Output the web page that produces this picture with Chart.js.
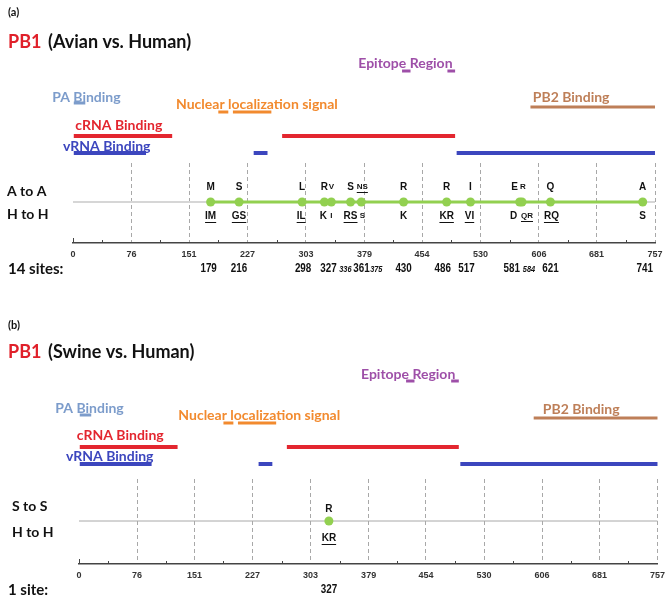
<!DOCTYPE html>
<html><head><meta charset="utf-8">
<script src="https://cdn.jsdelivr.net/npm/chart.js@4/dist/chart.umd.min.js"></script>
<style>html,body{margin:0;padding:0;background:#fff;}canvas{display:block;}</style>
</head><body>
<canvas id="ca" width="671" height="300"></canvas>
<canvas id="cb" width="671" height="300"></canvas>
<script>
// ---------- DATA ----------
const tickValues = [0, 76, 151, 227, 303, 379, 454, 530, 606, 681, 757];
const proteinLength = 757;

// functional domains (residue ranges)
const paBinding = [[1, 16]];
const nuclearLocalization = [[189, 202], [208, 258]];
const cRNABinding = [[1, 129], [272, 497]];
const vRNABinding = [[1, 95], [235, 253], [499, 757]];
const epitopeRegion = [[428, 439], [487, 497]];
const pb2Binding = [[595, 757]];

// panel (a): Avian vs. Human
const sitesA = [179, 216, 298, 327, 336, 361, 375, 430, 486, 517, 581, 584, 621, 741];
const avianResidues = ['M', 'S', 'L', 'R', 'V', 'S', 'NS', 'R', 'R', 'I', 'E', 'R', 'Q', 'A'];
const humanResiduesA = ['IM', 'GS', 'IL', 'K', 'I', 'RS', 'S', 'K', 'KR', 'VI', 'D', 'QR', 'RQ', 'S'];
const minorSitesA = [336, 375, 584];

// panel (b): Swine vs. Human
const sitesB = [327];
const swineResidues = ['R'];
const humanResiduesB = ['KR'];
const minorSitesB = [];

// ---------- STYLE / LAYOUT ----------
const SANS = "Lato, 'Open Sans', sans-serif";
const ARIAL = "'Liberation Sans', Arial, sans-serif";
const AXIS_H = 20;
const colors = {
  pa: '#7C9CCB', nls: '#F28A2E', crna: '#E3262F', vrna: '#3C46BE',
  epitope: '#9E4FA8', pb2: '#BE7F58', green: '#92D050', title: '#E0202A'
};

const panels = [
  {
    canvas: 'ca', tag: '(a)', title: '(Avian vs. Human)', rowTop: 'A to A', rowBottom: 'H to H', count: '14 sites:',
    sites: sitesA, top: avianResidues, bottom: humanResiduesA, minor: minorSitesA,
    area: { left: 73, right: 655, top: 163, bottom: 243 },
    baseLine: { color: '#d6d6d6', width: 2 }, greenLine: true,
    lv: { epitope: 172, pb2: 136, pa: 140, nls: 131, crna: 107, vrna: 90, site: 41, topRes: 56, botRes: 27 },
    rowY: [52, 29], rowX: 7,
    labels: { epitope: [371, 180], pb2: [598, 146], pa: [-27, 146], nls: [134, 139], crna: [3, 118], vrna: [-13, 97] },
    tagY: 12, titleY: 42,
    numOffsets: [-2, 0, 1, 4, 14, 11, 15, 0, -4, -4, -8, 7, 0, 2],
    topOffsets: [0, 0, 0, 0, 0, 0, 1, 0, 0, 0, -5, 1, 0, 0],
    botOffsets: [0, 0, -1, -1, 0, 0, 1, 0, 0, -1, -6, 5, 1, 0]
  },
  {
    canvas: 'cb', tag: '(b)', title: '(Swine vs. Human)', rowTop: 'S to S', rowBottom: 'H to H', count: '1 site:',
    sites: sitesB, top: swineResidues, bottom: humanResiduesB, minor: minorSitesB,
    area: { left: 79, right: 660, top: 179, bottom: 264 },
    baseLine: { color: '#a8a8a8', width: 1 }, greenLine: false,
    lv: { epitope: 183, pb2: 146, pa: 149, nls: 141, crna: 117, vrna: 100, site: 43, topRes: 55, botRes: 26 },
    rowY: [58, 32], rowX: 12,
    labels: { epitope: [369, 190], pb2: [607, 155], pa: [-31, 156], nls: [130, 149], crna: [-3, 129], vrna: [-17, 108] },
    tagY: 25, titleY: 52,
    numOffsets: [0], topOffsets: [0], botOffsets: [0]
  }
];

function makeChart(p) {
  const H = p.area.bottom - p.area.top;
  const datasets = [];
  // sites drawn on top (first dataset = topmost)
  datasets.push({
    data: p.sites.map(s => ({ x: s, y: p.lv.site })),
    showLine: p.greenLine, borderColor: colors.green, borderWidth: 3,
    pointRadius: 4.5, pointBackgroundColor: colors.green, pointBorderWidth: 0, clip: false
  });
  function seg(ranges, level, color, width) {
    ranges.forEach(r => datasets.push({
      data: [{ x: r[0], y: level }, { x: r[1], y: level }],
      borderColor: color, borderWidth: width, pointRadius: 0, clip: false, borderCapStyle: 'butt'
    }));
  }
  seg([[0, proteinLength]], p.lv.site, p.baseLine.color, p.baseLine.width);
  seg(epitopeRegion, p.lv.epitope, colors.epitope, 3);
  seg(pb2Binding, p.lv.pb2, colors.pb2, 3);
  seg(paBinding, p.lv.pa, colors.pa, 3);
  seg(nuclearLocalization, p.lv.nls, colors.nls, 3);
  seg(cRNABinding, p.lv.crna, colors.crna, 4);
  seg(vRNABinding, p.lv.vrna, colors.vrna, 4);

  const textPlugin = {
    id: 'texts',
    afterDraw(chart) {
      const ctx = chart.ctx, xs = chart.scales.x, ys = chart.scales.y;
      const X = v => xs.getPixelForValue(v), Y = v => ys.getPixelForValue(v);
      ctx.save();
      ctx.textBaseline = 'middle';
      // panel tag and title
      ctx.textAlign = 'left';
      ctx.fillStyle = '#111';
      ctx.font = `bold 11px ${SANS}`;
      ctx.fillText(p.tag, 8, p.tagY);
      ctx.font = `bold 18px ${SANS}`;
      ctx.fillStyle = colors.title;
      ctx.fillText('PB1', 8, p.titleY);
      ctx.fillStyle = '#111';
      ctx.fillText(p.title, 48, p.titleY);
      // domain labels
      const lab = [
        ['Epitope Region', 'epitope'], ['PB2 Binding', 'pb2'], ['PA Binding', 'pa'],
        ['Nuclear localization signal', 'nls'], ['cRNA Binding', 'crna'], ['vRNA Binding', 'vrna']
      ];
      ctx.font = `bold 14px ${SANS}`;
      lab.forEach(([t, k]) => {
        ctx.fillStyle = colors[k];
        ctx.fillText(t, X(p.labels[k][0]), Y(p.labels[k][1]));
      });
      // row labels
      ctx.fillStyle = '#111';
      ctx.font = `bold 14px ${SANS}`;
      ctx.fillText(p.rowTop, p.rowX, Y(p.rowY[0]));
      ctx.fillText(p.rowBottom, p.rowX, Y(p.rowY[1]));
      const axisY = chart.chartArea.bottom;
      ctx.font = `bold 15px ${SANS}`;
      ctx.fillText(p.count, 8, axisY + 26);
      // minor tick marks
      ctx.strokeStyle = '#444';
      ctx.lineWidth = 1;
      ctx.beginPath();
      ctx.moveTo(X(0) + 0.5, axisY); ctx.lineTo(X(0) + 0.5, axisY - 5);
      for (let i = 0; i < tickValues.length - 1; i++) {
        const m = Math.round(X((tickValues[i] + tickValues[i + 1]) / 2)) + 0.5;
        ctx.moveTo(m, axisY); ctx.lineTo(m, axisY - 3);
      }
      ctx.stroke();
      // residues and site numbers
      ctx.textAlign = 'center';
      function res(t, x, y, small) {
        ctx.font = `bold ${small ? 8 : 10}px ${ARIAL}`;
        ctx.fillText(t, x, y);
        if (t.length > 1) {
          const w = ctx.measureText(t).width;
          ctx.fillRect(x - w / 2, y + (small ? 5 : 6), w, 1);
        }
      }
      function narrowText(t, x, y, font) {
        ctx.save();
        ctx.font = font;
        ctx.translate(x, y);
        ctx.scale(0.82, 1);
        ctx.fillText(t, 0, 0);
        ctx.restore();
      }
      p.sites.forEach((s, i) => {
        const small = p.minor.includes(s);
        ctx.fillStyle = '#111';
        res(p.top[i], X(s) + p.topOffsets[i], Y(p.lv.topRes), small);
        res(p.bottom[i], X(s) + p.botOffsets[i], Y(p.lv.botRes), small);
        narrowText(String(s), X(s) + p.numOffsets[i], axisY + 26 + (small ? 1 : 0),
          small ? `italic bold 9px ${ARIAL}` : `bold 12px ${ARIAL}`);
      });
      ctx.restore();
    }
  };

  return new Chart(document.getElementById(p.canvas), {
    type: 'line',
    data: { datasets },
    plugins: [textPlugin],
    options: {
      responsive: false, animation: false, events: [],
      layout: { padding: { left: p.area.left, right: 671 - p.area.right, top: p.area.top, bottom: 300 - p.area.bottom - AXIS_H } },
      plugins: { legend: { display: false }, tooltip: { enabled: false } },
      scales: {
        x: {
          type: 'linear', min: 0, max: proteinLength,
          afterBuildTicks(s) { s.ticks = tickValues.map(v => ({ value: v })); },
          afterFit(s) { s.height = AXIS_H; },
          grid: {
            drawTicks: false, lineWidth: 1,
            color: c => (c.tick && c.tick.value === 0) ? 'rgba(0,0,0,0)' : '#a8a8a8'
          },
          border: { display: true, color: '#444', width: 1.5, dash: [4, 3] },
          ticks: {
            autoSkip: false, maxRotation: 0, padding: 6, color: '#333',
            font: { family: ARIAL, weight: 'bold', size: 9 }
          }
        },
        y: { type: 'linear', min: 0, max: H, display: false }
      }
    }
  });
}
panels.forEach(makeChart);
</script>
</body></html>
